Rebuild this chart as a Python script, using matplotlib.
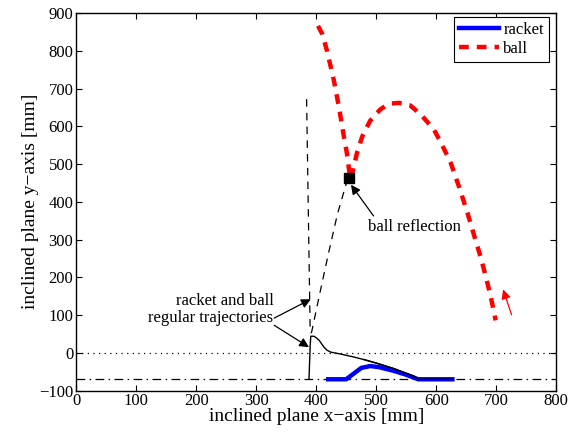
"""
Траектории ракетки и мяча на наклонной плоскости.
"""
import matplotlib
matplotlib.use('Agg')
import matplotlib.pyplot as plt

plt.rcParams['font.family'] = ['Liberation Serif', 'DejaVu Serif']
plt.rcParams['mathtext.fontset'] = 'stix'

# мяч: полёт до отражения и после
ball_in_x = [403, 410, 418, 429, 438, 446, 451, 454, 456]
ball_in_y = [866, 845, 800, 725, 650, 574, 530, 494, 470]
ball_out_x = [456, 461, 468, 477, 490, 507, 522, 538, 557, 575, 596, 610, 624, 638, 652, 663, 674, 683, 691, 699]
ball_out_y = [465, 481, 530, 574, 615, 645, 660, 662, 655, 630, 592, 550, 504, 440, 371, 312, 254, 200, 148, 86]

# ракетка
racket_x = [420, 450, 460, 475, 490, 505, 530, 550, 570, 600, 627]
racket_y = [-70, -70, -58, -40, -35, -38, -48, -58, -70, -70, -70]

# регулярные траектории (чёрные)
reg_racket_x = [388, 390, 391, 396, 400, 405, 409, 413, 418, 424, 440, 460, 480, 502, 530, 563, 570, 600, 627]
reg_racket_y = [-70, 20, 44, 44, 40, 33, 24, 15, 7, 2, -3, -10, -18, -28, -42, -62, -70, -70, -70]
reg_ball_v_x = [384, 390]
reg_ball_v_y = [672, 52]
reg_ball_s_x = [392, 405, 420, 435, 452]
reg_ball_s_y = [52, 150, 260, 365, 459]

reflect_pt = (455, 462)

fig, ax = plt.subplots(figsize=(5.77, 4.34), dpi=100)
fig.subplots_adjust(left=0.132, right=0.964, top=0.970, bottom=0.100)

# опорные линии
ax.axhline(0, color='black', linestyle=(0, (1, 3.5)), linewidth=0.9)
ax.axhline(-70, color='black', linestyle=(0, (7, 3.5, 1.2, 3.5)), linewidth=0.9)

dash_k = (0, (6, 5))
ax.plot(reg_ball_v_x, reg_ball_v_y, color='black', linestyle=dash_k, linewidth=0.9)
ax.plot(reg_ball_s_x, reg_ball_s_y, color='black', linestyle=dash_k, linewidth=0.9)
ax.plot(reg_racket_x, reg_racket_y, color='black', linewidth=1.0)

l1, = ax.plot(racket_x, racket_y, color='blue', linewidth=3.2, label='racket', zorder=3)
ax.plot(reg_racket_x[-7:], reg_racket_y[-7:], color='black', linewidth=1.0, zorder=4)
l2, = ax.plot(ball_in_x, ball_in_y, color='red', linewidth=3.2, linestyle=(0, (2.2, 1.8)), label='ball')
ax.plot(ball_out_x, ball_out_y, color='red', linewidth=3.2, linestyle=(0, (2.2, 1.8)))

ax.plot(*reflect_pt, marker='s', color='black', markersize=7, zorder=5)

# красная стрелка направления
ax.annotate('', xy=(710, 175), xytext=(727, 94),
            arrowprops=dict(arrowstyle='-|>', color='red', lw=0.9, mutation_scale=14))

ax.annotate('ball reflection', xy=(458, 445), xytext=(564, 334),
            ha='center', va='center', fontsize=12,
            arrowprops=dict(arrowstyle='-|>', color='black', lw=0.9, mutation_scale=14,
                            shrinkA=0, shrinkB=0, relpos=(0.08, 1.0)))

ax.text(329, 115, 'racket and ball\nregular trajectories', ha='right', va='center',
        fontsize=12, linespacing=1.1)
ax.annotate('', xy=(391, 142), xytext=(330, 92),
            arrowprops=dict(arrowstyle='-|>', color='black', lw=0.9, mutation_scale=14,
                            shrinkA=0, shrinkB=0))
ax.annotate('', xy=(388, 15), xytext=(330, 73),
            arrowprops=dict(arrowstyle='-|>', color='black', lw=0.9, mutation_scale=14,
                            shrinkA=0, shrinkB=0))

ax.set_xlim(0, 800)
ax.set_ylim(-100, 900)
ax.set_xticks(range(0, 801, 100))
ax.set_yticks(range(-100, 901, 100))
ax.set_yticklabels(['\u2212100'] + [str(v) for v in range(0, 901, 100)])
ax.tick_params(direction='in', top=True, right=True, labelsize=12, length=4, width=0.8, pad=2)
for s in ax.spines.values():
    s.set_linewidth(1.0)

ax.set_xlabel('inclined plane x\u2212axis [mm]', fontsize=14, labelpad=-1)
ax.set_ylabel('inclined plane y\u2212axis [mm]', fontsize=14, labelpad=0)

leg = ax.legend(handles=[l1, l2], loc='upper right', bbox_to_anchor=(0.985, 0.989),
                fontsize=12, fancybox=False, edgecolor='black', framealpha=1,
                handlelength=2.4, borderpad=0.3, labelspacing=0.15, handletextpad=0.25,
                borderaxespad=0)
leg.get_frame().set_linewidth(0.8)

plt.savefig('out.png', dpi=100)
plt.close()
